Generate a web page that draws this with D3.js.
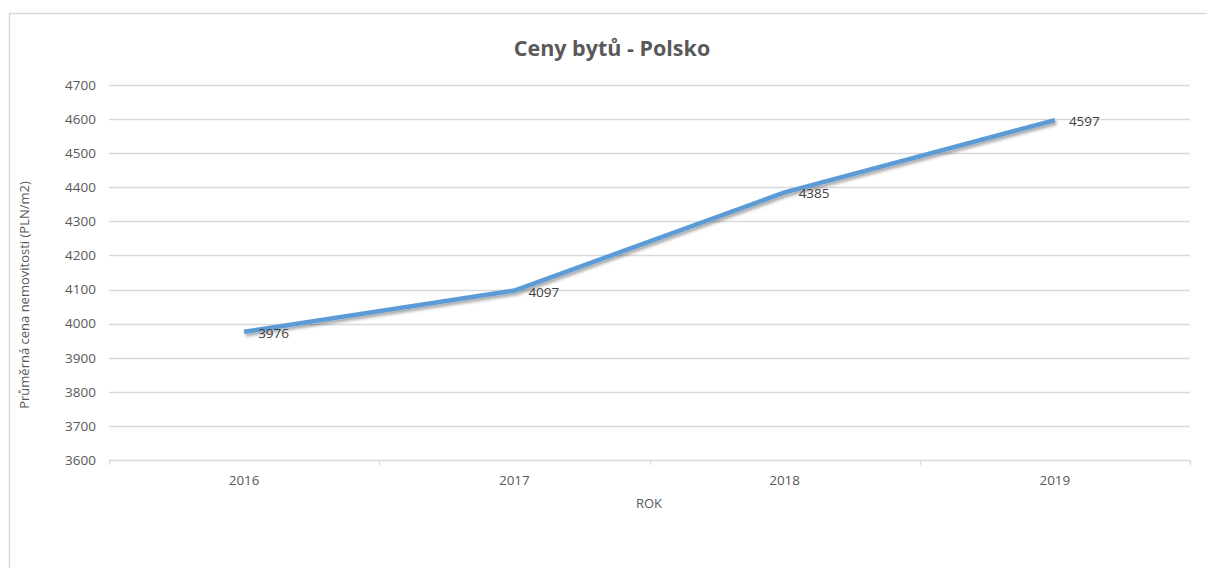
<!DOCTYPE html>
<meta charset="utf-8">
<head>
    <meta charset="UTF-8">
    <title>Ceny bytů - Polsko</title>
    <style>
      body { margin: 0; background: #fff; }
      text { font-family: "Open Sans", sans-serif; }
    </style>
</head>
<body>
<script src="https://d3js.org/d3.v7.min.js"></script>
<div id="chart"></div>
<script>

    // data
    const years = ["2016", "2017", "2018", "2019"]
    const prices = [3976, 4097, 4385, 4597]
    const yTicks = [3600, 3700, 3800, 3900, 4000, 4100, 4200, 4300, 4400, 4500, 4600, 4700]

    const W = 1207, H = 568
    const margin = {top: 85, right: 17, bottom: 108, left: 109},
      width = W - margin.left - margin.right,
      height = H - margin.top - margin.bottom;

    const root = d3.select("#chart")
      .append("svg")
        .attr("width", W)
        .attr("height", H)

    // drop shadow under the line
    const filter = root.append("defs").append("filter")
        .attr("id", "shadow")
        .attr("x", "-10%").attr("y", "-10%")
        .attr("width", "120%").attr("height", "130%")
    filter.append("feDropShadow")
        .attr("dx", 1.5).attr("dy", 2.5)
        .attr("stdDeviation", 1.6)
        .attr("flood-color", "#000")
        .attr("flood-opacity", 0.35)

    // chart frame
    root.append("rect")
        .attr("x", 9.5).attr("y", 13.5)
        .attr("width", 1220).attr("height", 600)
        .attr("fill", "none")
        .attr("stroke", "#d9d9d9")
        .attr("stroke-width", 1.5)

    const svg = root.append("g")
        .attr("transform", `translate(${margin.left},${margin.top})`);

    const x = d3.scaleBand()
      .range([0, width])
      .domain(years)
      .padding(0)

    const y = d3.scaleLinear()
      .range([height, 0])
      .domain([3600, 4700])

    // gridlines
    svg.append("g")
      .selectAll("line")
      .data(yTicks.slice(1))
      .join("line")
        .attr("x1", 0).attr("x2", width)
        .attr("y1", d => Math.round(y(d)) + 0.5)
        .attr("y2", d => Math.round(y(d)) + 0.5)
        .attr("stroke", "#d9d9d9")
        .attr("stroke-width", 1.3)

    // y tick labels
    const yAxis = svg.append("g")
      .call(d3.axisLeft(y).tickValues(yTicks).tickFormat(d3.format("d")).tickSize(0).tickPadding(13))
    yAxis.select(".domain").remove()
    yAxis.selectAll("text")
      .style("font-size", "13.5px")
      .style("fill", "#595959")

    // x axis with boundary ticks
    svg.append("line")
      .attr("x1", 0).attr("x2", width)
      .attr("y1", height + 0.5).attr("y2", height + 0.5)
      .attr("stroke", "#d9d9d9")
      .attr("stroke-width", 1.3)
    const bounds = years.map(d => x(d)).concat([width])
    svg.append("g")
      .selectAll("line")
      .data(bounds)
      .join("line")
        .attr("x1", d => Math.round(d) + 0.5).attr("x2", d => Math.round(d) + 0.5)
        .attr("y1", height).attr("y2", height + 5)
        .attr("stroke", "#d9d9d9")
        .attr("stroke-width", 1.3)
    svg.append("g")
      .selectAll("text")
      .data(years)
      .join("text")
        .attr("x", d => x(d) + x.bandwidth() / 2)
        .attr("y", height + 25)
        .attr("text-anchor", "middle")
        .style("font-size", "13.5px")
        .style("fill", "#595959")
        .text(d => d)

    // line
    const pts = years.map((d, i) => [x(d) + x.bandwidth() / 2, y(prices[i])])
    svg.append("path")
      .datum(pts)
      .attr("d", d3.line())
      .attr("fill", "none")
      .attr("stroke", "#5b9bd5")
      .attr("stroke-width", 4.5)
      .attr("stroke-linejoin", "round")
      .attr("filter", "url(#shadow)")

    // data labels
    svg.append("g")
      .selectAll("text")
      .data(pts)
      .join("text")
        .attr("x", d => d[0] + 14)
        .attr("y", d => d[1] + 6)
        .style("font-size", "13.5px")
        .style("fill", "#404040")
        .text((d, i) => prices[i])

    // title
    root.append("text")
        .attr("x", 612)
        .attr("y", 56)
        .attr("text-anchor", "middle")
        .style("font-size", "21.5px")
        .style("font-weight", "bold")
        .style("fill", "#595959")
        .text("Ceny bytů - Polsko");

    // axis titles
    root.append("text")
        .attr("transform", "translate(29,295) rotate(-90)")
        .attr("text-anchor", "middle")
        .style("font-size", "13px")
        .style("fill", "#595959")
        .text("Průměrná cena nemovitosti (PLN/m2)");

    root.append("text")
        .attr("x", 649)
        .attr("y", 508)
        .attr("text-anchor", "middle")
        .style("font-size", "13px")
        .style("fill", "#595959")
        .text("ROK");
</script>
</body>
